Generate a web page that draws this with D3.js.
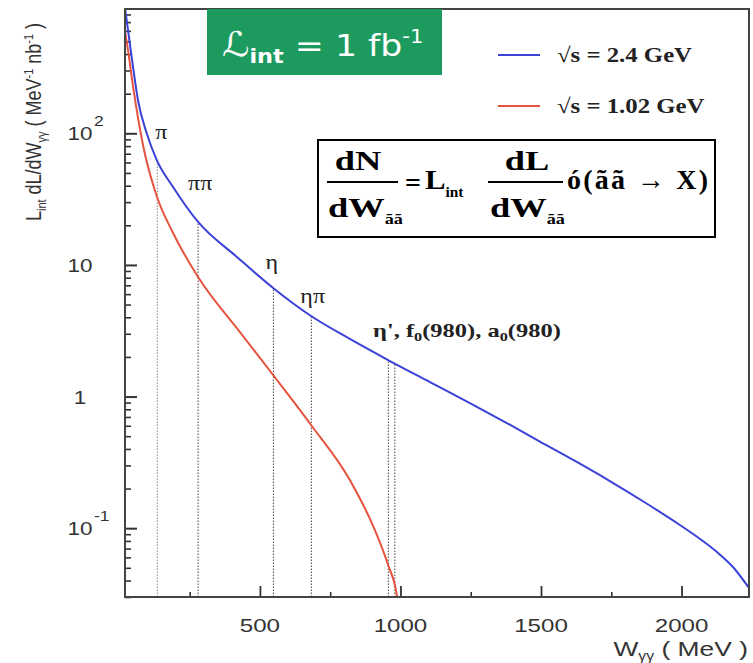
<!DOCTYPE html>
<html>
<head>
<meta charset="utf-8">
<script src="https://cdn.jsdelivr.net/npm/d3@7"></script>
<style>
  body { margin: 0; background: #fff; }
  svg { display: block; }
</style>
</head>
<body>
<svg id="chart" width="753" height="663"></svg>
<script>
// Two-photon luminosity L_int dL/dW_γγ for an integrated luminosity of 1 fb^-1
// W_γγ in MeV, luminosity in MeV^-1 nb^-1
const blueW   = [20, 48.5, 66, 97, 133, 191, 280, 418, 547, 682, 820, 956, 1105, 1247, 1372, 1496, 1621, 1745, 1870, 1994, 2066, 2126, 2183, 2240];
const blueLum = [900, 319, 179, 100.5, 62.6, 39.1, 21.2, 11.5, 6.68, 4.09, 2.74, 1.895, 1.289, 0.893, 0.640, 0.4555, 0.324, 0.228, 0.1567, 0.1057, 0.0827, 0.0659, 0.0507, 0.0351];

const redW    = [20, 30.7, 48.5, 84, 134, 191, 280, 429, 547, 682, 820, 909, 956, 988, 1000];
const redLum  = [598, 429, 228, 81.5, 32.8, 17.5, 8.09, 3.09, 1.458, 0.608, 0.232, 0.0968, 0.0525, 0.03, 0.015];

const seriesNames = ["√s = 2.4 GeV", "√s = 1.02 GeV"];

// Final states marked on the plot (thresholds / masses in MeV)
const markerMasses = [135, 280, 548, 683, 957, 980];
const markerLabels = ["π", "ππ", "η", "ηπ"];

const xTicks      = [500, 1000, 1500, 2000];
const xMinorTicks = [250, 750, 1250, 1750];
const yDecades    = [0.1, 1, 10, 100];
const yDecadeLabels = [["10", "-1"], ["1", ""], ["10", ""], ["10", "2"]];

const svg = d3.select("#chart");
const plotL = 125, plotR = 749, plotT = 9, plotB = 597;

const x = d3.scaleLinear().domain([20, 2240]).range([plotL, plotR]);
const y = d3.scaleLog().domain([0.03, 880]).range([plotB, plotT]);

const sans = "'Liberation Sans', Arial, Helvetica, sans-serif";
const serif = "'Liberation Serif', 'Times New Roman', Times, serif";
const blue = "#3a42d8", red = "#e6533f";

svg.append("defs").append("clipPath").attr("id", "plotclip")
  .append("rect").attr("x", plotL).attr("y", plotT).attr("width", plotR - plotL).attr("height", plotB - plotT);

// Minor and major log ticks along the left edge
const minorY = [];
for (const dec of [0.01, 0.1, 1, 10, 100]) {
  for (let m = 2; m <= 9; m++) {
    const v = m * dec;
    if (v >= 0.03 && v <= 880) minorY.push(v);
  }
}
svg.append("g").attr("transform", `translate(${plotL},0)`)
  .call(d3.axisRight(y).tickValues(minorY).tickSize(6).tickFormat(""))
  .call(g => g.select(".domain").remove())
  .call(g => g.selectAll("line").attr("stroke", "#333").attr("stroke-width", 1.6));
svg.append("g").attr("transform", `translate(${plotL},0)`)
  .call(d3.axisRight(y).tickValues(yDecades).tickSize(12).tickFormat(""))
  .call(g => g.select(".domain").remove())
  .call(g => g.selectAll("line").attr("stroke", "#333").attr("stroke-width", 2));

// Ticks along the bottom edge
svg.append("g").attr("transform", `translate(0,${plotB})`)
  .call(d3.axisTop(x).tickValues(xMinorTicks).tickSize(5).tickFormat(""))
  .call(g => g.select(".domain").remove())
  .call(g => g.selectAll("line").attr("stroke", "#333").attr("stroke-width", 1.6));
svg.append("g").attr("transform", `translate(0,${plotB})`)
  .call(d3.axisTop(x).tickValues(xTicks).tickSize(11).tickFormat(""))
  .call(g => g.select(".domain").remove())
  .call(g => g.selectAll("line").attr("stroke", "#333").attr("stroke-width", 1.8));

// Dotted verticals from the axis up to the 2.4 GeV curve
const blueAt = d3.scaleLinear().domain(blueW).range(blueLum.map(Math.log10));
svg.append("g").selectAll("line").data(markerMasses).join("line")
  .attr("x1", d => x(d)).attr("x2", d => x(d))
  .attr("y1", plotB).attr("y2", d => y(Math.pow(10, blueAt(d))))
  .attr("stroke", (d, i) => i === 0 ? "#888" : "#444")
  .attr("stroke-width", 1)
  .attr("stroke-dasharray", "1.5,1.5");

// Curves
const line = d3.line().x(d => x(d[0])).y(d => y(d[1])).curve(d3.curveMonotoneX);
const plot = svg.append("g").attr("clip-path", "url(#plotclip)");
plot.append("path").datum(redW.map((w, i) => [w, redLum[i]]))
  .attr("d", line).attr("fill", "none").attr("stroke", red).attr("stroke-width", 2);
plot.append("path").datum(blueW.map((w, i) => [w, blueLum[i]]))
  .attr("d", line).attr("fill", "none").attr("stroke", blue).attr("stroke-width", 2);

// Frame
svg.append("rect").attr("x", plotL).attr("y", plotT).attr("width", plotR - plotL).attr("height", plotB - plotT)
  .attr("fill", "none").attr("stroke", "#444").attr("stroke-width", 2);

// Tick labels
const xl = svg.append("g").attr("font-family", sans).attr("font-size", 19).attr("fill", "#333");
xTicks.forEach(t => {
  xl.append("text").attr("transform", `translate(${x(t)},632) scale(1.27,1)`)
    .attr("text-anchor", "middle").text(t);
});
const yl = svg.append("g").attr("font-family", sans).attr("font-size", 18).attr("fill", "#333");
yDecades.forEach((v, i) => {
  const [base, sup] = yDecadeLabels[i];
  const g = yl.append("g").attr("transform", `translate(80,${y(v) + 7})`);
  g.append("text").attr("transform", "scale(1.25,1)").attr("text-anchor", "middle").text(base);
  if (sup) {
    g.append("text").attr("transform", "translate(14,-14) scale(1.25,1)")
      .attr("font-size", 14).text(sup);
  }
});

// Axis titles
const xt = svg.append("text").attr("transform", "translate(748,656) scale(1.32,1)")
  .attr("text-anchor", "end").attr("font-family", sans).attr("font-size", 20).attr("fill", "#333");
xt.append("tspan").text("W");
xt.append("tspan").attr("font-size", 12).attr("dy", 4).text("γγ");
xt.append("tspan").attr("dy", -4).text(" ( MeV )");

const yt = svg.append("text").attr("transform", "translate(41,122) scale(1.2,1) rotate(-90)")
  .attr("text-anchor", "middle").attr("font-family", sans).attr("font-size", 18).attr("fill", "#333");
yt.append("tspan").text("L");
yt.append("tspan").attr("font-size", 11).attr("dy", 4).text("int");
yt.append("tspan").attr("dy", -4).text(" dL/dW");
yt.append("tspan").attr("font-size", 11).attr("dy", 4).text("γγ");
yt.append("tspan").attr("dy", -4).text(" ( MeV");
yt.append("tspan").attr("font-size", 11).attr("dy", -7).text("-1");
yt.append("tspan").attr("dy", 7).text(" nb");
yt.append("tspan").attr("font-size", 11).attr("dy", -7).text("-1");
yt.append("tspan").attr("dy", 7).text(" )");

// Final-state labels
const labelOffsets = [[-2, 139], [-10, 190], [-8, 269], [-11, 303]];
markerLabels.forEach((s, i) => {
  svg.append("text")
    .attr("transform", `translate(${x(markerMasses[i]) + labelOffsets[i][0]},${labelOffsets[i][1]}) scale(1.2,1)`)
    .attr("font-family", serif).attr("font-size", 20).attr("fill", "#222").text(s);
});
const heavy = svg.append("text").attr("transform", "translate(373,337) scale(1.36,1)")
  .attr("font-family", serif).attr("font-size", 18).attr("font-weight", "bold").attr("fill", "#222");
heavy.append("tspan").text("η', f");
heavy.append("tspan").attr("font-size", 12).attr("dy", 4).text("0");
heavy.append("tspan").attr("dy", -4).text("(980), a");
heavy.append("tspan").attr("font-size", 12).attr("dy", 4).text("0");
heavy.append("tspan").attr("dy", -4).text("(980)");

// Integrated luminosity badge
svg.append("rect").attr("x", 207).attr("y", 9).attr("width", 235).attr("height", 66).attr("fill", "#1d9b5f");
const badge = svg.append("text").attr("transform", "translate(222,56) scale(1.12,1)")
  .attr("font-family", "'DejaVu Sans', Verdana, sans-serif").attr("font-size", 31).attr("fill", "#fff");
badge.append("tspan").attr("font-style", "italic").attr("font-size", 34).text("ℒ");
badge.append("tspan").attr("font-size", 20).attr("font-weight", "bold").attr("dy", 7).text("int");
badge.append("tspan").attr("dy", -7).text(" = 1 fb");
badge.append("tspan").attr("font-size", 19).attr("dy", -13).text("-1");

// Legend
const legendColors = [blue, red];
const legendY = [55, 106];
seriesNames.forEach((name, i) => {
  svg.append("line").attr("x1", 498).attr("x2", 540).attr("y1", legendY[i]).attr("y2", legendY[i])
    .attr("stroke", legendColors[i]).attr("stroke-width", 2);
  svg.append("text").attr("transform", `translate(557,${legendY[i] + 7}) scale(1.18,1)`)
    .attr("font-family", serif).attr("font-size", 21).attr("font-weight", "bold").attr("fill", "#222")
    .text(name);
});

// Formula box
const fg = svg.append("g").attr("font-family", serif).attr("font-weight", "bold").attr("fill", "#000");
fg.append("rect").attr("x", 318).attr("y", 140).attr("width", 397).attr("height", 97)
  .attr("fill", "#fff").attr("stroke", "#000").attr("stroke-width", 2);
function fraction(cx, x1, x2, num, denX) {
  fg.append("text").attr("transform", `translate(${cx},170) scale(1.3,1)`)
    .attr("text-anchor", "middle").attr("font-size", 28).text(num);
  fg.append("line").attr("x1", x1).attr("x2", x2).attr("y1", 182).attr("y2", 182)
    .attr("stroke", "#000").attr("stroke-width", 2);
  const d = fg.append("text").attr("transform", `translate(${denX},217) scale(1.3,1)`).attr("font-size", 28);
  d.append("tspan").text("dW");
  d.append("tspan").attr("font-size", 14).attr("dy", 7).text("ãã");
}
fraction(358, 327, 398, "dN", 328);
fraction(527, 488, 563, "dL", 490);
fg.append("text").attr("x", 405).attr("y", 192).attr("font-size", 28).text("=");
const lint = fg.append("text").attr("transform", "translate(425,189) scale(1.1,1)").attr("font-size", 28);
lint.append("tspan").text("L");
lint.append("tspan").attr("font-size", 14).attr("dy", 8).text("int");
fg.append("text").attr("x", 567).attr("y", 189).attr("font-size", 28)
  .attr("textLength", 141).attr("lengthAdjust", "spacing").text("ó(ãã → X)");
</script>
</body>
</html>
